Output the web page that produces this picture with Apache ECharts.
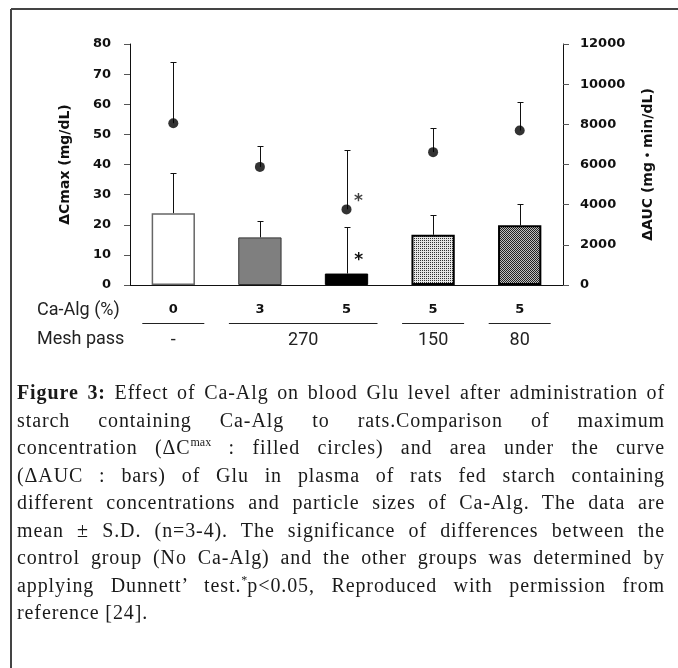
<!DOCTYPE html>
<html>
<head>
<meta charset="utf-8">
<script src="https://cdn.jsdelivr.net/npm/echarts@6/dist/echarts.min.js"></script>
<style>
  html, body { margin: 0; padding: 0; background: #fff; }
  #wrap { position: relative; width: 678px; height: 668px; overflow: hidden; }
  #chart { position: absolute; left: 0; top: 0; width: 678px; height: 668px; }
  #caption { position: absolute; left: 17px; top: 379px; width: 648px;
    font-family: 'Liberation Serif', serif; font-size: 20px; line-height: 27.5px;
    letter-spacing: 0.9px; color: #1a1a1a; }
  #caption div { text-align: justify; text-align-last: justify; }
  #caption div.last { text-align-last: left; }
  #caption sup { font-size: 12px; line-height: 0; letter-spacing: 0; }
</style>
</head>
<body>
<div id="wrap">
  <div id="chart"></div>
  <div id="caption">
    <div><b>Figure 3:</b> Effect of Ca-Alg on blood Glu level after administration of</div>
    <div>starch containing Ca-Alg to rats.Comparison of maximum</div>
    <div>concentration (&#916;C<sup>max</sup> : filled circles) and area under the curve</div>
    <div>(&#916;AUC : bars) of Glu in plasma of rats fed starch containing</div>
    <div>different concentrations and particle sizes of Ca-Alg. The data are</div>
    <div>mean ± S.D. (n=3-4). The significance of differences between the</div>
    <div>control group (No Ca-Alg) and the other groups was determined by</div>
    <div>applying Dunnett’ test.<sup>*</sup>p&lt;0.05, Reproduced with permission from</div>
    <div class="last">reference [24].</div>
  </div>
</div>
<script>
// groups on the x axis
const categories = ['0% / -', '3% / 270', '5% / 270', '5% / 150', '5% / 80']
const caAlgLabels = ['0', '3', '5', '5', '5']
// mesh pass label, first group index, last group index
const meshGroups = [['-', 0, 0], ['270', 1, 2], ['150', 3, 3], ['80', 4, 4]]

// ΔCmax (filled circles, left axis)
const cmaxMean = [53.7, 39.2, 25.1, 44.1, 51.3]
const cmaxSD = [20.2, 6.9, 19.7, 8.1, 9.4]
// ΔAUC (bars, right axis)
const aucMean = [3570, 2370, 570, 2500, 2970]
const aucSD = [2010, 810, 2310, 1000, 1060]
// Dunnett p<0.05
const cmaxSig = ['', '', '*', '', '']
const aucSig = ['', '', '*', '', '']

const leftTicks = [0, 10, 20, 30, 40, 50, 60, 70, 80]
const rightTicks = [0, 2000, 4000, 6000, 8000, 10000, 12000]

function makePattern(draw) {
  const c = document.createElement('canvas')
  c.width = 2
  c.height = 2
  const ctx = c.getContext('2d')
  draw(ctx)
  return { image: c, repeat: 'repeat' }
}
const dotted = makePattern(ctx => {
  ctx.fillStyle = '#e6e6e6'
  ctx.fillRect(0, 0, 2, 2)
  ctx.fillStyle = '#333'
  ctx.fillRect(0, 0, 1, 1)
})
const checker = makePattern(ctx => {
  ctx.fillStyle = '#c0c0c0'
  ctx.fillRect(0, 0, 2, 2)
  ctx.fillStyle = '#222'
  ctx.fillRect(0, 0, 1, 1)
  ctx.fillRect(1, 1, 1, 1)
})
const barStyles = [
  { color: '#ffffff', borderColor: '#666', borderWidth: 1.5 },
  { color: '#7f7f7f', borderColor: '#333', borderWidth: 1 },
  { color: '#000000', borderColor: '#000', borderWidth: 1 },
  { color: dotted, borderColor: '#000', borderWidth: 2 },
  { color: checker, borderColor: '#000', borderWidth: 2 }
]

const axisFont = { fontFamily: 'DejaVu Sans', fontWeight: 'bold', fontSize: 13, color: '#111' }
const nameFont = { fontFamily: 'DejaVu Sans, Noto Sans CJK JP', fontWeight: 'bold', fontSize: 14, color: '#111' }
const rowFont = 'Roboto'

function errorItem(params, api) {
  const i = api.value(0)
  const base = api.coord([i, api.value(1)])
  const top = api.coord([i, api.value(1) + api.value(2)])
  const x = Math.round(base[0]) + 0.5
  const yt = Math.round(top[1]) + 0.5
  const st = { stroke: '#111', lineWidth: 1 }
  return {
    type: 'group',
    children: [
      { type: 'line', shape: { x1: x, y1: base[1], x2: x, y2: yt }, style: st },
      { type: 'line', shape: { x1: x - 3, y1: yt, x2: x + 3, y2: yt }, style: st }
    ]
  }
}

const chart = echarts.init(document.getElementById('chart'))
const option = {
  backgroundColor: '#fff',
  animation: false,
  grid: { left: 130, right: 115, top: 44, bottom: 383 },
  xAxis: {
    type: 'category',
    data: categories,
    axisLine: { lineStyle: { color: '#111', width: 1 } },
    axisTick: { show: false },
    axisLabel: Object.assign({ margin: 18, formatter: (v, i) => caAlgLabels[i] }, axisFont)
  },
  yAxis: [
    {
      type: 'value', min: leftTicks[0], max: leftTicks[leftTicks.length - 1], interval: leftTicks[1] - leftTicks[0],
      name: 'ΔCmax (mg/dL)', nameLocation: 'middle', nameRotate: 90, nameGap: 58,
      nameTextStyle: nameFont,
      axisLine: { show: true, lineStyle: { color: '#111' } },
      axisTick: { show: true, length: 6, lineStyle: { color: '#555' } },
      axisLabel: Object.assign({ margin: 19 }, axisFont),
      splitLine: { show: false }
    },
    {
      type: 'value', min: rightTicks[0], max: rightTicks[rightTicks.length - 1], interval: rightTicks[1] - rightTicks[0],
      name: 'ΔAUC (mg・min/dL)', nameLocation: 'middle', nameRotate: 90, nameGap: 78,
      nameTextStyle: nameFont,
      axisLine: { show: true, lineStyle: { color: '#111' } },
      axisTick: { show: true, length: 6, lineStyle: { color: '#555' } },
      axisLabel: Object.assign({ margin: 17, formatter: v => String(v) }, axisFont),
      splitLine: { show: false }
    }
  ],
  series: [
    {
      name: 'ΔAUC',
      type: 'bar',
      yAxisIndex: 1,
      barWidth: '50%',
      data: aucMean.map((v, i) => ({ value: v, itemStyle: barStyles[i] })),
      label: {
        show: true,
        position: ['78%', -13],
        align: 'center',
        verticalAlign: 'middle',
        formatter: p => aucSig[p.dataIndex],
        fontFamily: 'DejaVu Sans', fontWeight: 'bold', fontSize: 17, color: '#111'
      },
      z: 2
    },
    {
      name: 'ΔAUC SD',
      type: 'custom',
      yAxisIndex: 1,
      renderItem: errorItem,
      encode: { x: 0, y: 1 },
      data: aucMean.map((v, i) => [i, v, aucSD[i]]),
      z: 1
    },
    {
      name: 'ΔCmax SD',
      type: 'custom',
      yAxisIndex: 0,
      renderItem: errorItem,
      encode: { x: 0, y: 1 },
      data: cmaxMean.map((v, i) => [i, v, cmaxSD[i]]),
      z: 3
    },
    {
      name: 'ΔCmax',
      type: 'scatter',
      yAxisIndex: 0,
      symbol: 'circle',
      symbolSize: 10,
      itemStyle: { color: '#000' },
      data: cmaxMean,
      label: {
        show: true,
        position: [17, -3],
        align: 'center',
        verticalAlign: 'middle',
        formatter: p => cmaxSig[p.dataIndex],
        fontFamily: 'DejaVu Sans', fontWeight: 'bold', fontSize: 17, color: '#111'
      },
      z: 4
    }
  ]
}
chart.setOption(option)

// table under the x axis + frame
const px = i => chart.convertToPixel({ xAxisIndex: 0 }, categories[i])
const graphics = [
  { type: 'line', shape: { x1: 11, y1: 9, x2: 678, y2: 9 }, style: { stroke: '#444', lineWidth: 2 } },
  { type: 'line', shape: { x1: 11, y1: 9, x2: 11, y2: 668 }, style: { stroke: '#444', lineWidth: 2 } },
  { type: 'text', left: 37, top: 301, style: { text: 'Ca-Alg (%)', fontFamily: rowFont, fontSize: 18, fill: '#222' } },
  { type: 'text', left: 37, top: 330, style: { text: 'Mesh pass', fontFamily: rowFont, fontSize: 18, fill: '#222' } }
]
meshGroups.forEach(([label, a, b]) => {
  const x1 = px(a) - 31
  const x2 = px(b) + 31
  graphics.push({ type: 'line', shape: { x1: x1, y1: 323.5, x2: x2, y2: 323.5 }, style: { stroke: '#222', lineWidth: 1 } })
  graphics.push({
    type: 'text', x: (px(a) + px(b)) / 2, y: 340,
    style: { text: label, fontFamily: rowFont, fontSize: 18, fill: '#222', align: 'center', verticalAlign: 'middle' }
  })
})
chart.setOption({ graphic: graphics })
</script>
</body>
</html>
